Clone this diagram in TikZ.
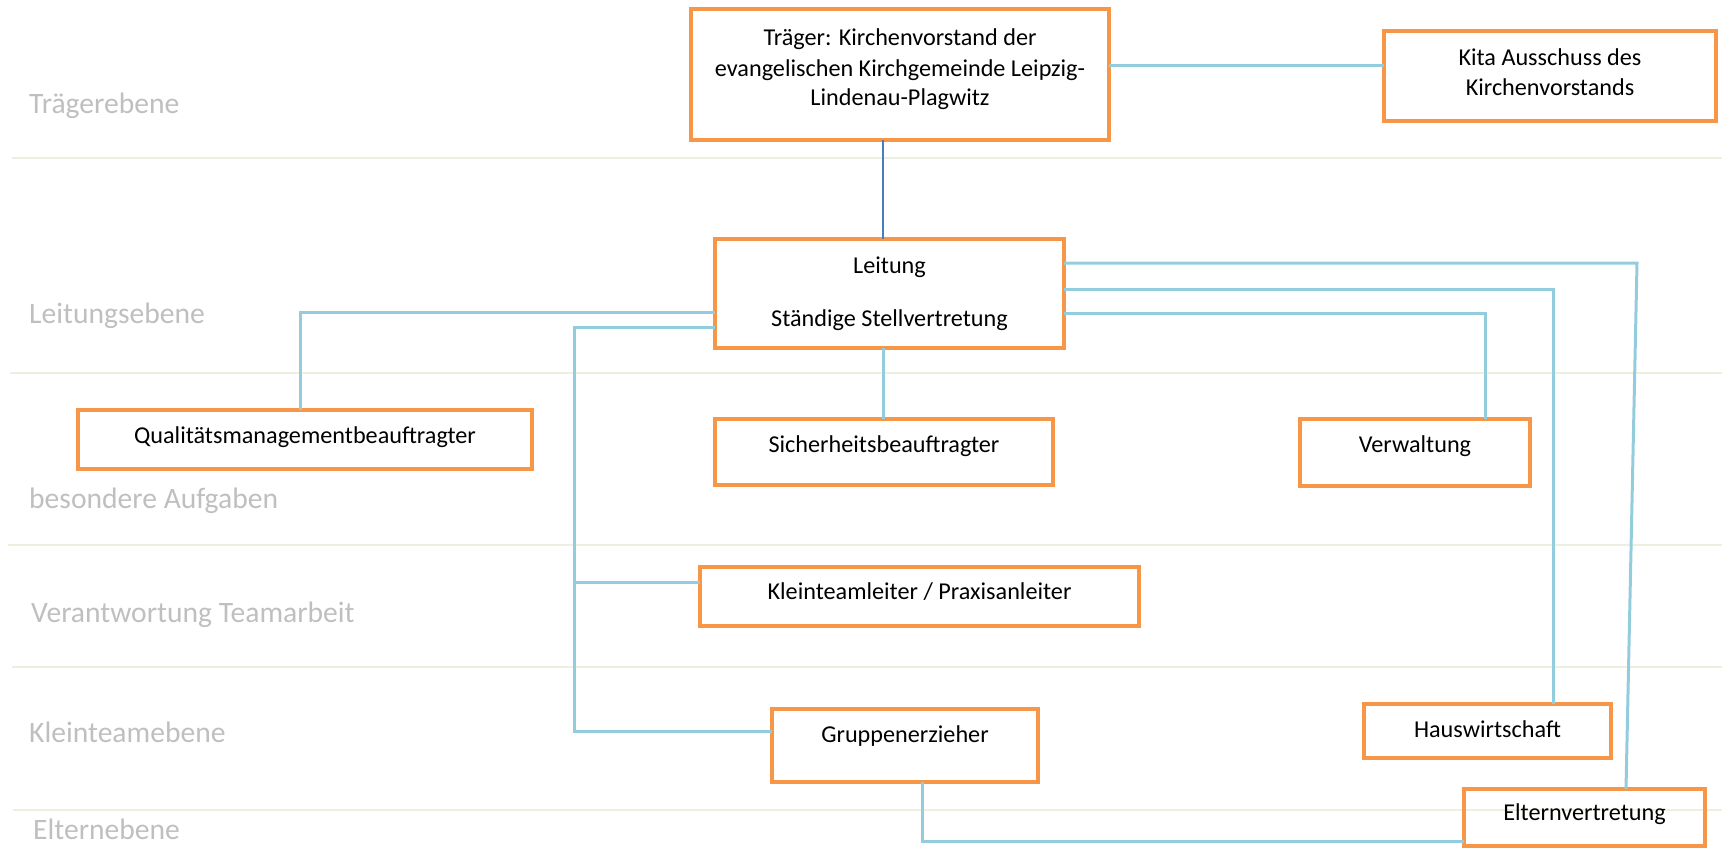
\documentclass[tikz,border=0pt]{standalone}
\usepackage{fontspec}
\setmainfont{Carlito}
\definecolor{boxorange}{HTML}{F79646}
\definecolor{linkblue}{HTML}{93CDDD}
\definecolor{darkblue}{HTML}{4A7EBB}
\definecolor{levelgray}{HTML}{BFBFBF}
\definecolor{rulegreen}{HTML}{EBF1DE}
\begin{document}
\begin{tikzpicture}[x=1pt,y=-1pt,
  box/.style={draw=boxorange, line width=4pt, inner sep=0pt, outer sep=0pt},
  boxtext/.style={font=\fontsize{24.2}{31}\selectfont, align=center, anchor=base, inner sep=0pt},
  level/.style={font=\fontsize{29.6}{34}\selectfont, text=levelgray, anchor=base west, inner sep=0pt},
  conn/.style={draw=linkblue, line width=3pt},
  rule/.style={draw=rulegreen, line width=2pt}]
\useasboundingbox (0,0) rectangle (1722,854);

% level separators
\draw[rule] (12,158) -- (1722,158);
\draw[rule] (10,373) -- (1722,373);
\draw[rule] (8,545) -- (1722,545);
\draw[rule] (12,667) -- (1722,667);
\draw[rule] (13,810) -- (1722,810);

% level names
\node[level] (l1) at (29,113) {Trägerebene};
\node[level] (l2) at (29,323) {Leitungsebene};
\node[level] (l3) at (29,508) {besondere Aufgaben};
\node[level] (l4) at (31,622) {Verantwortung Teamarbeit};
\node[level] (l5) at (29,742) {Kleinteamebene};
\node[level] (l6) at (33,839) {Elternebene};

% boxes
\node[box, minimum width=418pt, minimum height=131pt] (trager) at (900,74.5) {};
\node[box, minimum width=332pt, minimum height=90pt] (kita) at (1550,76) {};
\node[box, minimum width=349pt, minimum height=109pt] (leitung) at (889.5,293.5) {};
\node[box, minimum width=454pt, minimum height=59pt] (quali) at (305,439.5) {};
\node[box, minimum width=338pt, minimum height=66pt] (sicher) at (884,452) {};
\node[box, minimum width=230pt, minimum height=67pt] (verw) at (1415,452.5) {};
\node[box, minimum width=439pt, minimum height=59pt] (klein) at (919.5,596.5) {};
\node[box, minimum width=266pt, minimum height=73pt] (gruppe) at (905,745.5) {};
\node[box, minimum width=247pt, minimum height=54pt] (haus) at (1487.5,731) {};
\node[box, minimum width=241pt, minimum height=57pt] (eltern) at (1584.5,817.5) {};

% box texts (base = baseline of the last line)
\node[boxtext] (tragert) at (900,105) {Träger: Kirchenvorstand der\\evangelischen Kirchgemeinde Leipzig-\\[-2pt]Lindenau-Plagwitz};
\node[boxtext] (kitat) at (1550,95) {Kita Ausschuss des\\[-1pt]Kirchenvorstands};
\node[boxtext] (leitungt) at (889.5,326) {Leitung\\[22pt]Ständige Stellvertretung};
\node[boxtext] (qualit) at (305,443) {Qualitätsmanagementbeauftragter};
\node[boxtext] (sichert) at (884,452) {Sicherheitsbeauftragter};
\node[boxtext] (verwt) at (1415,452) {Verwaltung};
\node[boxtext] (kleint) at (919.5,599) {Kleinteamleiter / Praxisanleiter};
\node[boxtext] (gruppet) at (905,742) {Gruppenerzieher};
\node[boxtext] (haust) at (1487.5,737) {Hauswirtschaft};
\node[boxtext] (elternt) at (1584.5,820) {Elternvertretung};

% bend points of the connectors
\coordinate (tk) at (0,65);
\coordinate (tl) at (883,0);
\coordinate (qk) at (300,312);
\coordinate (gk) at (574,327);
\coordinate (gk2) at (574,731);
\coordinate (kk) at (574,582);
\coordinate (vk) at (1485,313);
\coordinate (hk) at (1553,289);
\coordinate (ek) at (1637,263);
\coordinate (ek2) at (1626,0);
\coordinate (ge) at (922,841);

% connectors
\draw[conn] (tk -| trager.east) -- (tk -| kita.west);
\draw[draw=darkblue, line width=2pt] (tl |- trager.south) -- (tl |- leitung.north);
\draw[conn] (qk -| leitung.west) -- (qk) -- (qk |- quali.north);
\draw[conn] (gk -| leitung.west) -- (gk) -- (gk2) -- (gk2 -| gruppe.west);
\draw[conn] (kk) -- (kk -| klein.west);
\draw[conn] (tl |- leitung.south) -- (tl |- sicher.north);
\draw[conn] (vk -| leitung.east) -- (vk) -- (vk |- verw.north);
\draw[conn] (hk -| leitung.east) -- (hk) -- (hk |- haus.north);
\draw[conn] (ek -| leitung.east) -- (ek) -- (ek2 |- eltern.north);
\draw[conn] (ge |- gruppe.south) -- (ge) -- (ge -| eltern.west);
\end{tikzpicture}
\end{document}
